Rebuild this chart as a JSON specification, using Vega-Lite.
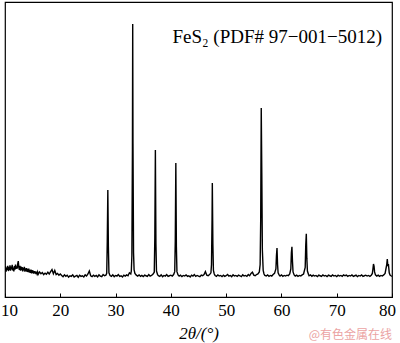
{
  "$schema": "https://vega.github.io/schema/vega-lite/v6.json",
  "width": 387,
  "height": 295,
  "autosize": {"type": "none"},
  "padding": {"left": 5, "top": 2, "right": 8, "bottom": 46},
  "background": "white",
  "config": {"view": {"stroke": "#000", "strokeWidth": 1.2}},
  "datasets": {
    "xrd": [
      {"theta":10.0,"counts":90},{"theta":10.1,"counts":104},{"theta":10.2,"counts":86},{"theta":10.3,"counts":100},{"theta":10.4,"counts":92},{"theta":10.5,"counts":106},{"theta":10.6,"counts":88},{"theta":10.7,"counts":101},{"theta":10.8,"counts":91},{"theta":10.9,"counts":107},{"theta":11.0,"counts":89},{"theta":11.1,"counts":103},{"theta":11.2,"counts":94},{"theta":11.3,"counts":109},{"theta":11.4,"counts":90},{"theta":11.5,"counts":100},{"theta":11.6,"counts":87},{"theta":11.7,"counts":105},{"theta":11.8,"counts":93},{"theta":11.9,"counts":110},{"theta":12.0,"counts":95},{"theta":12.1,"counts":104},{"theta":12.2,"counts":96},{"theta":12.3,"counts":112},{"theta":12.4,"counts":122},{"theta":12.5,"counts":100},{"theta":12.6,"counts":92},{"theta":12.7,"counts":106},{"theta":12.8,"counts":89},{"theta":12.9,"counts":103},{"theta":13.0,"counts":91},{"theta":13.1,"counts":101},{"theta":13.2,"counts":87},{"theta":13.3,"counts":99},{"theta":13.4,"counts":90},{"theta":13.5,"counts":102},{"theta":13.6,"counts":86},{"theta":13.7,"counts":97},{"theta":13.8,"counts":88},{"theta":13.9,"counts":98},{"theta":14.0,"counts":85},{"theta":14.1,"counts":95},{"theta":14.2,"counts":84},{"theta":14.3,"counts":96},{"theta":14.4,"counts":83},{"theta":14.5,"counts":92},{"theta":14.6,"counts":82},{"theta":14.7,"counts":93},{"theta":14.8,"counts":80},{"theta":14.9,"counts":91},{"theta":15.0,"counts":81},{"theta":15.1,"counts":89},{"theta":15.2,"counts":79},{"theta":15.3,"counts":88},{"theta":15.4,"counts":80},{"theta":15.5,"counts":87},{"theta":15.6,"counts":78},{"theta":15.7,"counts":86},{"theta":15.8,"counts":79},{"theta":15.9,"counts":85},{"theta":16.0,"counts":77},
      {"theta":16.25,"counts":85},{"theta":16.5,"counts":79},{"theta":16.75,"counts":83},{"theta":17.0,"counts":76},{"theta":17.25,"counts":81},{"theta":17.5,"counts":77},{"theta":17.75,"counts":84},{"theta":18.0,"counts":78},{"theta":18.25,"counts":86},{"theta":18.5,"counts":93},{"theta":18.75,"counts":79},{"theta":19.0,"counts":90},{"theta":19.25,"counts":76},{"theta":19.5,"counts":80},{"theta":19.75,"counts":74},{"theta":20.0,"counts":78},
      {"theta":20.25,"counts":73},{"theta":20.5,"counts":69},{"theta":20.75,"counts":75},{"theta":21.0,"counts":70},{"theta":21.25,"counts":74},{"theta":21.5,"counts":67},{"theta":21.75,"counts":72},{"theta":22.0,"counts":70},{"theta":22.25,"counts":75},{"theta":22.5,"counts":68},{"theta":22.75,"counts":71},{"theta":23.0,"counts":73},{"theta":23.25,"counts":67},{"theta":23.5,"counts":74},{"theta":23.75,"counts":70},{"theta":24.0,"counts":72},{"theta":24.25,"counts":68},{"theta":24.5,"counts":75},{"theta":24.75,"counts":71},{"theta":25.0,"counts":78},{"theta":25.25,"counts":88},{"theta":25.5,"counts":72},{"theta":25.75,"counts":69},{"theta":26.0,"counts":74},{"theta":26.25,"counts":70},{"theta":26.5,"counts":73},{"theta":26.75,"counts":68},{"theta":27.0,"counts":75},{"theta":27.25,"counts":71},{"theta":27.5,"counts":69},{"theta":27.75,"counts":76},{"theta":28.0,"counts":72},{"theta":28.25,"counts":74},
      {"theta":28.4,"counts":80},{"theta":28.5,"counts":190},{"theta":28.6,"counts":363},{"theta":28.7,"counts":170},{"theta":28.8,"counts":82},{"theta":29.0,"counts":73},
      {"theta":29.25,"counts":70},{"theta":29.5,"counts":75},{"theta":29.75,"counts":69},{"theta":30.0,"counts":73},{"theta":30.25,"counts":71},{"theta":30.5,"counts":76},{"theta":30.75,"counts":70},{"theta":31.0,"counts":72},{"theta":31.25,"counts":68},{"theta":31.5,"counts":74},{"theta":31.75,"counts":71},{"theta":32.0,"counts":75},{"theta":32.25,"counts":72},{"theta":32.5,"counts":82},{"theta":32.75,"counts":78},
      {"theta":32.85,"counts":88},{"theta":32.95,"counts":140},{"theta":33.05,"counts":500},{"theta":33.1,"counts":925},{"theta":33.15,"counts":520},{"theta":33.25,"counts":150},{"theta":33.35,"counts":92},{"theta":33.5,"counts":80},{"theta":33.75,"counts":74},
      {"theta":34.0,"counts":71},{"theta":34.25,"counts":75},{"theta":34.5,"counts":70},{"theta":34.75,"counts":73},{"theta":35.0,"counts":69},{"theta":35.25,"counts":74},{"theta":35.5,"counts":72},{"theta":35.75,"counts":70},{"theta":36.0,"counts":76},{"theta":36.25,"counts":71},{"theta":36.5,"counts":73},{"theta":36.75,"counts":77},
      {"theta":37.0,"counts":84},{"theta":37.1,"counts":200},{"theta":37.2,"counts":498},{"theta":37.3,"counts":180},{"theta":37.4,"counts":88},{"theta":37.6,"counts":76},
      {"theta":37.75,"counts":72},{"theta":38.0,"counts":70},{"theta":38.25,"counts":75},{"theta":38.5,"counts":69},{"theta":38.75,"counts":73},{"theta":39.0,"counts":71},{"theta":39.25,"counts":76},{"theta":39.5,"counts":70},{"theta":39.75,"counts":72},{"theta":40.0,"counts":74},{"theta":40.25,"counts":71},{"theta":40.5,"counts":76},
      {"theta":40.7,"counts":86},{"theta":40.8,"counts":190},{"theta":40.9,"counts":454},{"theta":41.0,"counts":170},{"theta":41.1,"counts":86},{"theta":41.3,"counts":75},
      {"theta":41.5,"counts":71},{"theta":41.75,"counts":74},{"theta":42.0,"counts":69},{"theta":42.25,"counts":73},{"theta":42.5,"counts":71},{"theta":42.75,"counts":75},{"theta":43.0,"counts":70},{"theta":43.25,"counts":72},{"theta":43.5,"counts":68},{"theta":43.75,"counts":74},{"theta":44.0,"counts":71},{"theta":44.25,"counts":76},{"theta":44.5,"counts":70},{"theta":44.75,"counts":73},{"theta":45.0,"counts":71},{"theta":45.25,"counts":69},{"theta":45.5,"counts":74},{"theta":45.75,"counts":72},{"theta":46.0,"counts":76},{"theta":46.25,"counts":86},{"theta":46.5,"counts":74},{"theta":46.75,"counts":72},{"theta":47.0,"counts":76},{"theta":47.25,"counts":82},
      {"theta":47.35,"counts":110},{"theta":47.45,"counts":260},{"theta":47.5,"counts":386},{"theta":47.6,"counts":180},{"theta":47.7,"counts":90},{"theta":47.85,"counts":78},
      {"theta":48.0,"counts":73},{"theta":48.25,"counts":70},{"theta":48.5,"counts":75},{"theta":48.75,"counts":71},{"theta":49.0,"counts":73},{"theta":49.25,"counts":69},{"theta":49.5,"counts":74},{"theta":49.75,"counts":70},{"theta":50.0,"counts":72},{"theta":50.25,"counts":76},{"theta":50.5,"counts":71},{"theta":50.75,"counts":73},{"theta":51.0,"counts":69},{"theta":51.25,"counts":75},{"theta":51.5,"counts":71},{"theta":51.75,"counts":73},{"theta":52.0,"counts":70},{"theta":52.25,"counts":74},{"theta":52.5,"counts":72},{"theta":52.75,"counts":69},{"theta":53.0,"counts":75},{"theta":53.25,"counts":71},{"theta":53.5,"counts":73},{"theta":53.75,"counts":70},{"theta":54.0,"counts":76},{"theta":54.25,"counts":72},{"theta":54.5,"counts":80},{"theta":54.75,"counts":84},{"theta":55.0,"counts":74},{"theta":55.25,"counts":72},{"theta":55.5,"counts":76},{"theta":55.75,"counts":78},{"theta":56.0,"counts":85},
      {"theta":56.15,"counts":110},{"theta":56.25,"counts":260},{"theta":56.35,"counts":641},{"theta":56.45,"counts":420},{"theta":56.55,"counts":160},{"theta":56.7,"counts":90},{"theta":56.85,"counts":78},
      {"theta":57.0,"counts":73},{"theta":57.25,"counts":71},{"theta":57.5,"counts":75},{"theta":57.75,"counts":70},{"theta":58.0,"counts":73},{"theta":58.25,"counts":71},{"theta":58.5,"counts":76},{"theta":58.75,"counts":80},
      {"theta":59.0,"counts":95},{"theta":59.1,"counts":140},{"theta":59.2,"counts":166},{"theta":59.3,"counts":110},{"theta":59.4,"counts":82},{"theta":59.6,"counts":74},
      {"theta":59.75,"counts":71},{"theta":60.0,"counts":75},{"theta":60.25,"counts":70},{"theta":60.5,"counts":73},{"theta":60.75,"counts":71},{"theta":61.0,"counts":74},{"theta":61.25,"counts":72},{"theta":61.5,"counts":78},
      {"theta":61.7,"counts":95},{"theta":61.8,"counts":150},{"theta":61.9,"counts":170},{"theta":62.0,"counts":120},{"theta":62.1,"counts":85},{"theta":62.3,"counts":75},
      {"theta":62.5,"counts":71},{"theta":62.75,"counts":74},{"theta":63.0,"counts":70},{"theta":63.25,"counts":73},{"theta":63.5,"counts":71},{"theta":63.75,"counts":75},{"theta":64.0,"counts":78},
      {"theta":64.3,"counts":100},{"theta":64.4,"counts":175},{"theta":64.5,"counts":214},{"theta":64.6,"counts":130},{"theta":64.7,"counts":88},{"theta":64.9,"counts":76},
      {"theta":65.0,"counts":72},{"theta":65.25,"counts":75},{"theta":65.5,"counts":70},{"theta":65.75,"counts":74},{"theta":66.0,"counts":71},{"theta":66.25,"counts":73},{"theta":66.5,"counts":69},{"theta":66.75,"counts":74},{"theta":67.0,"counts":72},{"theta":67.25,"counts":70},{"theta":67.5,"counts":75},{"theta":67.75,"counts":71},{"theta":68.0,"counts":73},{"theta":68.25,"counts":69},{"theta":68.5,"counts":74},{"theta":68.75,"counts":72},{"theta":69.0,"counts":70},{"theta":69.25,"counts":75},{"theta":69.5,"counts":71},{"theta":69.75,"counts":73},{"theta":70.0,"counts":69},{"theta":70.25,"counts":74},{"theta":70.5,"counts":71},{"theta":70.75,"counts":73},{"theta":71.0,"counts":70},{"theta":71.25,"counts":75},{"theta":71.5,"counts":72},{"theta":71.75,"counts":74},{"theta":72.0,"counts":70},{"theta":72.25,"counts":73},{"theta":72.5,"counts":71},{"theta":72.75,"counts":75},{"theta":73.0,"counts":70},{"theta":73.25,"counts":72},{"theta":73.5,"counts":74},{"theta":73.75,"counts":69},{"theta":74.0,"counts":73},{"theta":74.25,"counts":71},{"theta":74.5,"counts":75},{"theta":74.75,"counts":70},{"theta":75.0,"counts":72},{"theta":75.25,"counts":74},{"theta":75.5,"counts":71},{"theta":75.75,"counts":73},{"theta":76.0,"counts":70},{"theta":76.25,"counts":74},{"theta":76.45,"counts":80},
      {"theta":76.55,"counts":95},{"theta":76.65,"counts":112},{"theta":76.75,"counts":105},{"theta":76.85,"counts":85},{"theta":77.0,"counts":75},
      {"theta":77.25,"counts":71},{"theta":77.5,"counts":74},{"theta":77.75,"counts":70},{"theta":78.0,"counts":73},{"theta":78.25,"counts":71},{"theta":78.5,"counts":75},{"theta":78.75,"counts":80},
      {"theta":78.95,"counts":100},{"theta":79.05,"counts":110},{"theta":79.15,"counts":129},{"theta":79.25,"counts":105},{"theta":79.35,"counts":112},{"theta":79.5,"counts":82},{"theta":79.65,"counts":74},{"theta":79.8,"counts":72},{"theta":80.0,"counts":70}
    ],
    "labels": [
      {"theta": 78.2, "counts": 861, "text": "FeS₂ (PDF# 97−001−5012)"}
    ],
    "mark": [
      {"theta": 80, "counts": -128, "text": "@有色金属在线"}
    ]
  },
  "layer": [
    {
      "data": {"name": "xrd"},
      "mark": {"type": "line", "color": "#000", "strokeWidth": 1.4, "clip": true},
      "encoding": {
        "x": {
          "field": "theta", "type": "quantitative",
          "scale": {"domain": [10, 80], "nice": false, "zero": false},
          "axis": {
            "values": [10, 20, 30, 40, 50, 60, 70, 80],
            "title": "2θ/(°)",
            "titleFont": "Liberation Serif", "titleFontSize": 17, "titleFontWeight": "normal", "titleFontStyle": "italic",
            "titleColor": "#000", "titlePadding": 7,
            "labelFont": "Liberation Serif", "labelFontSize": 17, "labelColor": "#000",
            "labelPadding": 9, "labelFlush": false,
            "labelOffset": {"condition": [{"test": "datum.value == 10", "value": 4}, {"test": "datum.value == 80", "value": -5}], "value": 0},
            "tickSize": -4, "tickColor": "#000", "domainColor": "#000", "domainWidth": 1.2,
            "grid": false
          }
        },
        "y": {
          "field": "counts", "type": "quantitative",
          "scale": {"domain": [0, 1000], "nice": false},
          "axis": null
        }
      }
    },
    {
      "data": {"name": "labels"},
      "mark": {"type": "text", "align": "right", "baseline": "alphabetic", "font": "Liberation Serif", "fontSize": 19, "color": "#000"},
      "encoding": {
        "x": {"field": "theta", "type": "quantitative"},
        "y": {"field": "counts", "type": "quantitative"},
        "text": {"field": "text"}
      }
    },
    {
      "data": {"name": "mark"},
      "mark": {"type": "text", "align": "right", "baseline": "middle", "font": "Noto Sans CJK SC", "fontSize": 12, "color": "#eba3a3"},
      "encoding": {
        "x": {"field": "theta", "type": "quantitative"},
        "y": {"field": "counts", "type": "quantitative"},
        "text": {"field": "text"}
      }
    }
  ]
}
